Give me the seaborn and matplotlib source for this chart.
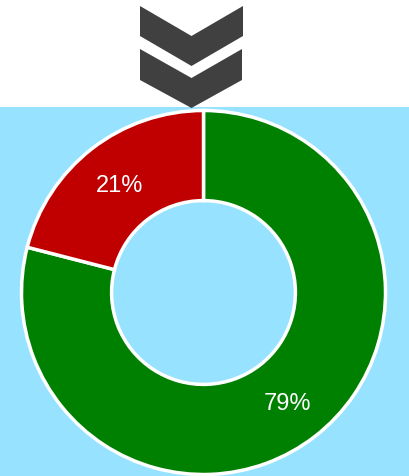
import matplotlib
matplotlib.use("Agg")
import matplotlib.pyplot as plt
from matplotlib.patches import Polygon
import numpy as np
import seaborn as sns

categories = ["Red", "Green"]
values = [21, 79]
labels = ["21%", "79%"]
colors = ["#C00000", "#008000"]

sns.set_style("white")
plt.rcParams["font.family"] = ["Liberation Sans", "DejaVu Sans"]

W, H = 410, 476
fig = plt.figure(figsize=(W / 100, H / 100), dpi=100)
fig.patch.set_facecolor("white")

top = 107
ax = fig.add_axes([0, 0, 1, (H - top) / H])
R_px = 182
cx, cy = 203.5, 292.5

# red runs counter-clockwise from 12 o'clock, green clockwise: draw clockwise starting with green
wedges, texts = ax.pie(values[::-1], colors=colors[::-1], startangle=90, counterclock=False,
                       radius=1.0,
                       wedgeprops=dict(width=0.495, edgecolor="white", linewidth=2.5),
                       frame=True)
ax.set_facecolor("#97E3FF")
ax.set_xlim(-cx / R_px, (W - cx) / R_px)
ax.set_ylim(-(H - cy) / R_px, (cy - top) / R_px)
ax.set_aspect("auto")
for w, lab in zip(wedges, labels[::-1]):
    ang = np.deg2rad((w.theta1 + w.theta2) / 2)
    r = 0.755
    ax.text(r * np.cos(ang), r * np.sin(ang), lab, color="white", fontsize=17,
            ha="center", va="center_baseline")
ax.set_xticks([])
ax.set_yticks([])
for s in ax.spines.values():
    s.set_visible(False)

chev_color = "#404040"
def to_fig(pts):
    return [(x / W, (H - y) / H) for x, y in pts]
c1 = [(140, 6), (191.5, 36), (243, 6), (243, 36), (191.5, 66), (140, 36)]
c2 = [(140, 49), (191.5, 78), (242, 49), (242, 80), (191.5, 108), (140, 80)]
for pts in (c1, c2):
    fig.patches.append(Polygon(to_fig(pts), closed=True, facecolor=chev_color,
                               edgecolor="none", transform=fig.transFigure, zorder=10,
                               figure=fig))

fig.savefig("out.png", dpi=100)
